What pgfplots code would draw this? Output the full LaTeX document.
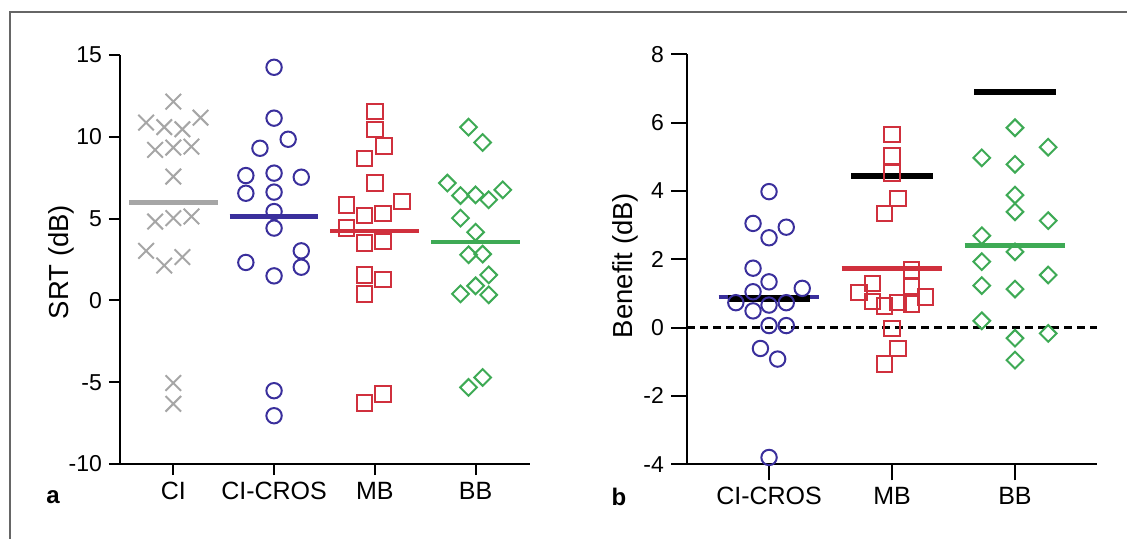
\documentclass[border=0pt]{standalone}
\usepackage{pgfplots}
\pgfplotsset{compat=1.18}
\usepackage{fontspec}
\setmainfont{Liberation Sans}
\definecolor{cgray}{HTML}{A6A6A6}
\definecolor{cblue}{HTML}{3A2F9C}
\definecolor{cred}{HTML}{D0303D}
\definecolor{cgreen}{HTML}{3EAA55}
\pgfplotsset{
  mystyle/.style={
    scale only axis, clip=false,
    axis lines=left, axis line style={-, line width=1pt, black},
    tick align=outside, tick style={line width=1pt, black},
    minor tick num=0,
    yticklabel style={font=\fontsize{11.5pt}{13pt}\selectfont},
    xticklabel style={font=\fontsize{12.5pt}{14pt}\selectfont},
    every axis y label/.style={rotate=90, anchor=center, font=\fontsize{13.75pt}{16pt}\selectfont},
  },
}
\begin{document}
\begin{tikzpicture}
\useasboundingbox (0,0) rectangle (563.5pt,-269.5pt);
\draw[line width=1pt, black!60] (5pt,-275pt) -- (5pt,-6pt) -- (570pt,-6pt);
% ---------------- panel a
\begin{axis}[mystyle,
  at={(60pt,-232pt)}, anchor=south west,
  width=205pt, height=204.5pt,
  xmin=-0.529, xmax=3.54, ymin=-10, ymax=15,
  xtick={0,1,2,3}, xticklabels={CI,CI-CROS,MB,BB},
  ytick={-10,-5,0,5,10,15}, yticklabels={{-10},{-5},{0},{5},{10},{15}},
  major tick length=5.5pt,
  ylabel={SRT (dB)},
  every axis y label/.append style={at={(axis description cs:-0.144,0.494)}},
]
\addplot[only marks, mark=x, mark size=5.5pt, cgray, line width=1pt] coordinates {
(0,12.15) (-0.27,10.87) (-0.09,10.59) (0.09,10.46) (0.27,11.17)
(-0.18,9.20) (0,9.34) (0.18,9.40) (0,7.57)
(-0.18,4.82) (0,5.03) (0.18,5.13)
(-0.27,3.03) (-0.09,2.13) (0.09,2.65)
(0,-5.05) (0,-6.32)};
\addplot[only marks, mark=o, mark size=3.85pt, cblue, line width=1pt] coordinates {
(1,14.25) (1,11.14) (1.14,9.85) (0.86,9.30) (0.72,7.63) (1,7.78) (1.27,7.53)
(0.72,6.55) (1,6.62) (1,5.43) (1,4.42) (1.27,3.03) (0.72,2.32) (1.27,2.03)
(1,1.50) (1,-5.52) (1,-7.05)};
\addplot[only marks, mark=square, mark size=3.85pt, cred, line width=1pt] coordinates {
(2,11.54) (2,10.46) (2.09,9.44) (1.90,8.69) (2,7.17) (2.27,6.04) (1.72,5.84)
(1.90,5.19) (2.08,5.33) (1.72,4.42) (1.90,3.50) (2.08,3.60) (1.90,1.56)
(2.08,1.26) (1.90,0.40) (2.08,-5.72) (1.90,-6.27)};
\addplot[only marks, mark=square, mark size=2.95pt, cgreen, line width=1pt,
  every mark/.append style={rotate=45}] coordinates {
(2.93,10.59) (3.07,9.65) (2.72,7.17) (2.85,6.41) (3,6.45) (3.13,6.15) (3.27,6.76)
(2.85,5.03) (3,4.17) (2.93,2.79) (3.07,2.83) (3.13,1.56) (3,0.89) (2.85,0.40)
(3.13,0.34) (3.07,-4.71) (2.93,-5.32)};
\addplot[cgray, line width=2.2pt] coordinates {(-0.44,5.98) (0.44,5.98)};
\addplot[cblue, line width=2.2pt] coordinates {(0.56,5.13) (1.44,5.13)};
\addplot[cred, line width=2.2pt] coordinates {(1.56,4.25) (2.44,4.25)};
\addplot[cgreen, line width=2.2pt] coordinates {(2.56,3.56) (3.44,3.56)};
\end{axis}
% ---------------- panel b
\begin{axis}[mystyle,
  at={(343.5pt,-232.15pt)}, anchor=south west,
  width=205pt, height=205pt,
  xmin=-0.667, xmax=2.667, ymin=-4, ymax=8,
  xtick={0,1,2}, xticklabels={CI-CROS,MB,BB},
  ytick={-4,-2,0,2,4,6,8}, yticklabels={{-4},{-2},{0},{2},{4},{6},{8}},
  major tick length=8pt,
  ylabel={Benefit (dB)},
  every axis y label/.append style={at={(axis description cs:-0.151,0.485)}},
]
\addplot[only marks, mark=o, mark size=3.85pt, cblue, line width=1pt] coordinates {
(0,3.98) (-0.13,3.05) (0.14,2.94) (0,2.63) (-0.13,1.74) (0,1.34) (0.27,1.15)
(-0.13,1.05) (-0.27,0.73) (0,0.66) (0.14,0.73) (-0.13,0.49) (0,0.06) (0.14,0.06)
(-0.07,-0.61) (0.07,-0.92) (0,-3.80)};
\addplot[only marks, mark=square, mark size=3.85pt, cred, line width=1pt] coordinates {
(1,5.66) (1,5.02) (1,4.53) (1.05,3.78) (0.94,3.34) (1.16,1.69) (1.16,1.20)
(0.84,1.30) (0.73,1.03) (1.27,0.90) (0.84,0.76) (0.94,0.63) (1.05,0.74)
(1.16,0.69) (1,-0.02) (1.05,-0.61) (0.94,-1.07)};
\addplot[only marks, mark=square, mark size=2.95pt, cgreen, line width=1pt,
  every mark/.append style={rotate=45}] coordinates {
(2,5.85) (2.27,5.28) (1.73,4.97) (2,4.78) (2,3.88) (2,3.39) (2.27,3.13)
(1.73,2.69) (2,2.22) (1.73,1.93) (2.27,1.54) (1.73,1.23) (2,1.13) (1.73,0.20)
(2.27,-0.17) (2,-0.31) (2,-0.95)};
\addplot[cblue, line width=2.2pt] coordinates {(-0.41,0.90) (0.41,0.90)};
\addplot[cred, line width=2.2pt] coordinates {(0.59,1.73) (1.41,1.73)};
\addplot[cgreen, line width=2.2pt] coordinates {(1.59,2.40) (2.41,2.40)};
\addplot[black, line width=3.3pt] coordinates {(-0.33,0.86) (0.33,0.86)};
\addplot[black, line width=3.3pt] coordinates {(0.67,4.44) (1.33,4.44)};
\addplot[black, line width=3.3pt] coordinates {(1.67,6.90) (2.33,6.90)};
\addplot[black, line width=1.4pt, dash pattern=on 4pt off 2.5pt] coordinates {(-0.667,0) (2.667,0)};
\end{axis}
\node[font=\bfseries\fontsize{12pt}{14pt}\selectfont] at (26.5pt,-248.5pt) {a};
\node[font=\bfseries\fontsize{12pt}{14pt}\selectfont] at (309.5pt,-248.5pt) {b};
\end{tikzpicture}
\end{document}
